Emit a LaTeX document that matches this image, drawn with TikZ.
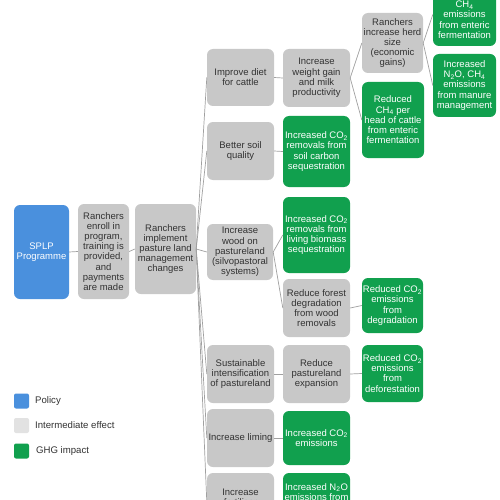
\documentclass[tikz,border=0pt]{standalone}
\usepackage{fontspec}
\setmainfont{Liberation Sans}
\definecolor{polblue}{RGB}{74,144,221}
\definecolor{midgray}{RGB}{200,200,200}
\definecolor{leggray}{RGB}{226,226,226}
\definecolor{ghggreen}{RGB}{17,160,78}
\definecolor{txtgray}{RGB}{50,50,50}
\definecolor{linegray}{RGB}{160,160,160}
\tikzset{
  bx/.style={rounded corners=6pt, inner sep=0pt, align=center,
    font=\fontsize{9.5}{10.2}\selectfont},
  grey/.style={bx, fill=midgray, text=txtgray},
  green/.style={bx, fill=ghggreen, text=white},
  blue/.style={bx, fill=polblue, text=white},
  conn/.style={draw=linegray, line width=0.7pt},
  legsq/.style={rounded corners=2pt, minimum width=15pt, minimum height=15pt, inner sep=0pt},
  legtxt/.style={anchor=west, text=txtgray, font=\fontsize{9.6}{10}\selectfont, inner sep=0pt}
}
\newcommand{\sub}[1]{\textsubscript{#1}}
\begin{document}
\begin{tikzpicture}[x=1pt,y=-1pt]
\useasboundingbox (0,0) rectangle (500,500);
\clip (0,0) rectangle (500,500);
\fill[white] (0,0) rectangle (500,500);
% column 1-3
\node[blue, minimum width=55pt, minimum height=94pt] (splp) at (41.5,252) {SPLP\\Programme};
\node[grey, minimum width=51pt, minimum height=95pt] (enroll) at (103.5,251.5) {Ranchers\\enroll in\\program,\\training is\\provided,\\and\\payments\\are made};
\node[grey, minimum width=61pt, minimum height=90pt] (impl) at (165.5,249) {Ranchers\\implement\\pasture land\\management\\changes};
% column 4
\node[grey, minimum width=67pt, minimum height=57pt] (diet) at (240.5,77.5) {Improve diet\\for cattle};
\node[grey, minimum width=67pt, minimum height=58pt] (soil) at (240.5,151) {Better soil\\quality};
\node[grey, minimum width=66pt, minimum height=56pt] (wood) at (240,252) {Increase\\wood on\\pastureland\\(silvopastoral\\systems)};
\node[grey, minimum width=67pt, minimum height=58pt] (sust) at (240.5,374) {Sustainable\\intensification\\of pastureland};
\node[grey, minimum width=67pt, minimum height=58pt] (lime) at (240.5,438) {Increase liming};
\node[grey, minimum width=67pt, minimum height=58pt] (fert) at (240.5,502) {Increase\\fertiliser\\use};
% column 5
\node[grey, minimum width=67pt, minimum height=58pt] (weight) at (316.5,78) {Increase\\weight gain\\and milk\\productivity};
\node[green, minimum width=67pt, minimum height=71pt] (soilc) at (316.5,151.5) {Increased CO\sub{2}\\removals from\\soil carbon\\sequestration};
\node[green, minimum width=67pt, minimum height=76pt] (bio) at (316.5,235) {Increased CO\sub{2}\\removals from\\living biomass\\sequestration};
\node[grey, minimum width=67pt, minimum height=58pt] (fdeg) at (316.5,308) {Reduce forest\\degradation\\from wood\\removals};
\node[grey, minimum width=67pt, minimum height=58pt] (pexp) at (316.5,374) {Reduce\\pastureland\\expansion};
\node[green, minimum width=67pt, minimum height=54pt] (co2em) at (316.5,438) {Increased CO\sub{2}\\emissions};
\node[green, minimum width=67pt, minimum height=60pt] (n2o) at (316.5,503) {Increased N\sub{2}O\\emissions from\\fertiliser\\application};
% column 6
\node[grey, minimum width=61pt, minimum height=60pt] (herd) at (392.5,43) {Ranchers\\increase herd\\size\\(economic\\gains)};
\node[green, minimum width=62pt, minimum height=76pt] (ch4h) at (393,120) {Reduced\\CH\sub{4} per\\head of cattle\\from enteric\\fermentation};
\node[green, minimum width=61pt, minimum height=55pt] (degr) at (392.5,305.5) {Reduced CO\sub{2}\\emissions\\from\\degradation};
\node[green, minimum width=61pt, minimum height=57pt] (defor) at (392.5,373.5) {Reduced CO\sub{2}\\emissions\\from\\deforestation};
% column 7
\node[green, minimum width=63pt, minimum height=63pt] (ent) at (464.5,14.5) {Increased\\CH\sub{4}\\emissions\\from enteric\\fermentation};
\node[green, minimum width=63pt, minimum height=63pt] (man) at (464.5,85.5) {Increased\\N\sub{2}O, CH\sub{4}\\emissions\\from manure\\management};
% connectors
\draw[conn] (splp.east) -- (enroll.west);
\draw[conn] (enroll.east) -- (impl.west);
\foreach \t in {diet,soil,wood,sust,lime,fert}
  \draw[conn] (impl.east) -- (\t.west);
\draw[conn] (diet.east) -- (weight.west);
\draw[conn] (soil.east) -- (soilc.west);
\draw[conn] (wood.east) -- (bio.west);
\draw[conn] (wood.east) -- (fdeg.west);
\draw[conn] (sust.east) -- (pexp.west);
\draw[conn] (lime.east) -- (co2em.west);
\draw[conn] (fert.east) -- (n2o.west);
\draw[conn] (weight.east) -- (herd.west);
\draw[conn] (weight.east) -- (ch4h.west);
\draw[conn] (fdeg.east) -- (degr.west);
\draw[conn] (pexp.east) -- (defor.west);
\draw[conn] (herd.east) -- (ent.west);
\draw[conn] (herd.east) -- (man.west);
% legend
\node[legsq, fill=polblue] (lp) at (21.5,401) {};
\node[legtxt] (lpt) at (35,401) {Policy};
\node[legsq, fill=leggray] (li) at (21.5,425.5) {};
\node[legtxt] (lit) at (35,425.5) {Intermediate effect};
\node[legsq, fill=ghggreen] (lg) at (21.5,451) {};
\node[legtxt] (lgt) at (36,451) {GHG impact};
\end{tikzpicture}
\end{document}
